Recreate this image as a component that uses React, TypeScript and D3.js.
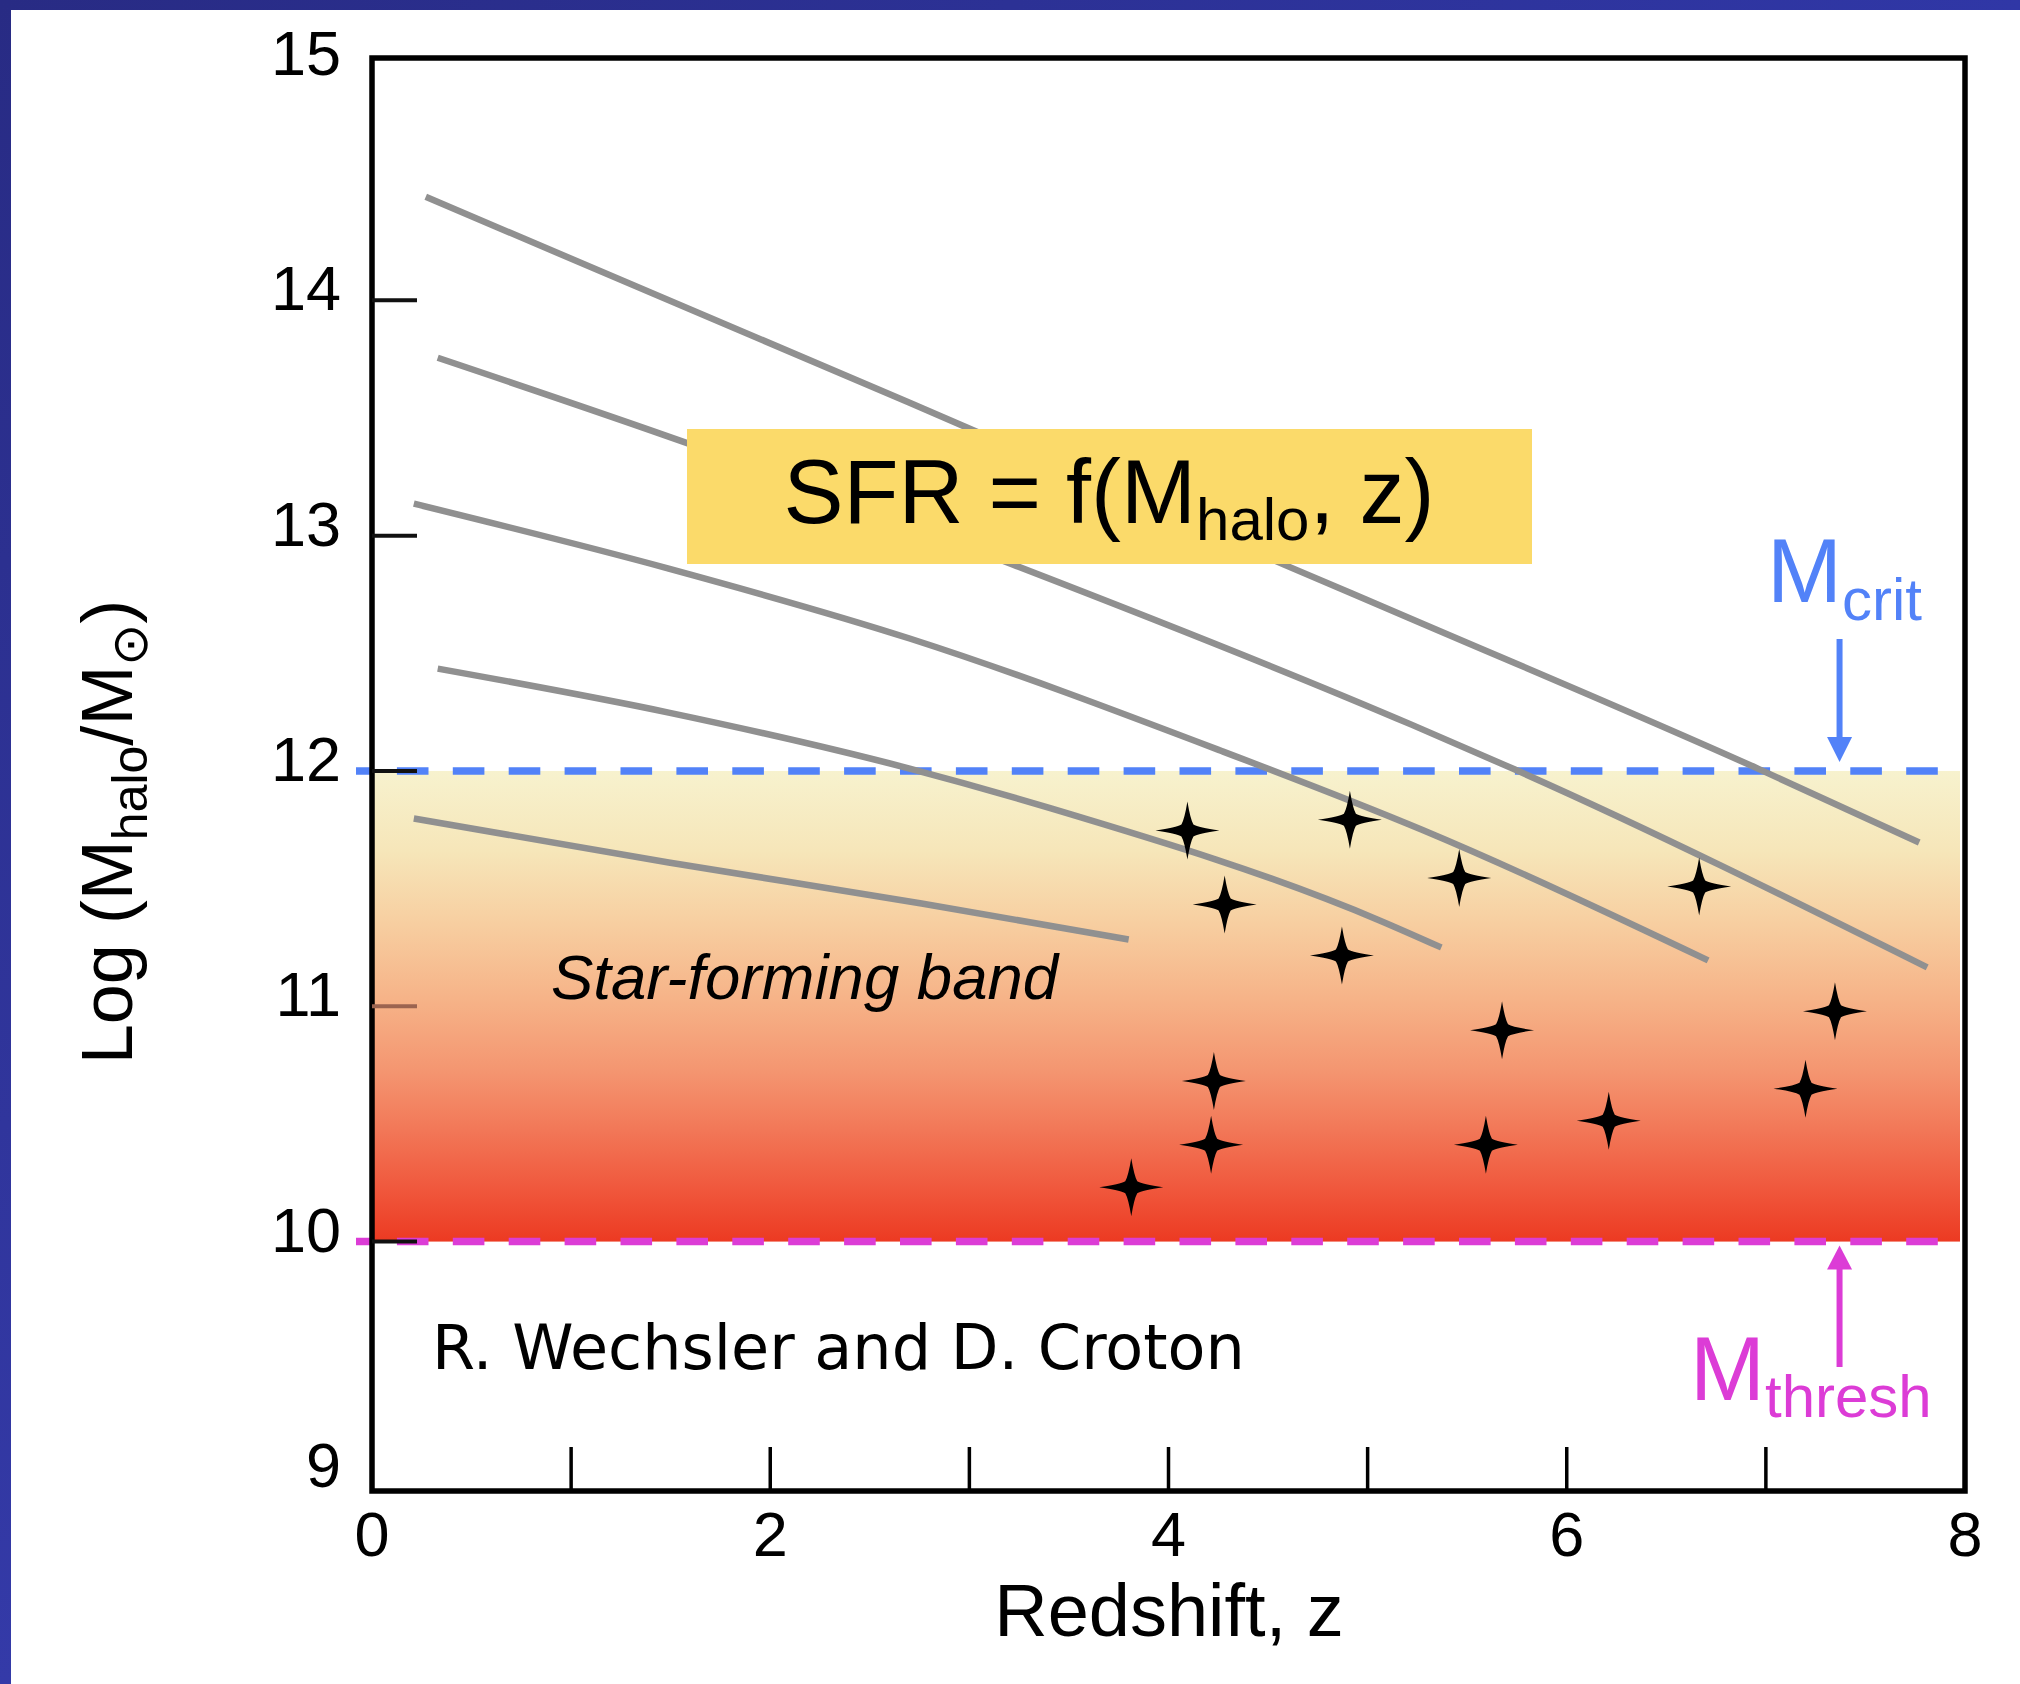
import React from 'react';
import * as d3 from 'd3';

const W = 2020;
const H = 1684;

// axes
const xDomain = [0, 8];
const yDomain = [8.94, 15.03];
const xMinorTicks = [1, 2, 3, 4, 5, 6, 7];
const xTickLabels = [0, 2, 4, 6, 8];
const yTickMarks = [14, 13, 12, 11, 10];
const yTickLabels = [15, 14, 13, 12, 11, 10, 9];

// thresholds
const mCrit = 12;
const mThresh = 10;

// halo growth tracks: [redshift, log Mhalo]
const track1 = [[0.27, 14.44], [2.7, 13.565], [4.58, 12.877], [5.27, 12.628], [6.96, 12.01], [7.77, 11.696]];
const track2 = [[0.33, 13.756], [1.59, 13.391], [3.22, 12.877], [5.22, 12.197], [5.74, 12.006], [7.81, 11.165]];
const track3 = [[0.21, 13.136], [1.49, 12.86], [2.7, 12.563], [4.26, 12.087], [5.27, 11.751], [6.71, 11.195]];
const track4 = [[0.33, 12.435], [1.49, 12.248], [2.7, 12.01], [3.41, 11.841], [5.06, 11.365], [5.37, 11.25]];
const track5 = [[0.21, 11.798], [1.49, 11.611], [2.76, 11.437], [3.8, 11.284]];
const tracks = [track1, track2, track3, track4, track5];

// star-forming galaxies
const starZ = [4.095, 4.911, 4.282, 5.46, 4.871, 6.665, 5.675, 7.347, 4.228, 4.214, 3.813, 5.594, 6.211, 7.199];
const starLogM = [11.747, 11.793, 11.432, 11.545, 11.216, 11.509, 10.898, 10.979, 10.682, 10.412, 10.231, 10.412, 10.514, 10.65];

const SANS = 'Liberation Sans, Arial, Helvetica, sans-serif';

function starPath(rx: number, ry: number): string {
  const c = 6;
  return [
    `M0,${-ry}`,
    `Q3,-11 ${c},${-c}`,
    `Q11,-3 ${rx},0`,
    `Q11,3 ${c},${c}`,
    `Q3,11 0,${ry}`,
    `Q-3,11 ${-c},${c}`,
    `Q-11,3 ${-rx},0`,
    `Q-11,-3 ${-c},${-c}`,
    `Q-3,-11 0,${-ry}Z`,
  ].join(' ');
}

export default function App() {
  const x = d3.scaleLinear().domain(xDomain).range([372, 1965]);
  const y = d3.scaleLinear().domain(yDomain).range([1491, 58]);
  const line = d3
    .line<number[]>()
    .x((d) => x(d[0]))
    .y((d) => y(d[1]))
    .curve(d3.curveMonotoneX);

  const bandX0 = x(0);
  const bandX1 = x(8) - 5;
  const dashX0 = x(0) - 16;
  const arrowX = x(7.37);
  const star = starPath(32, 29);

  return (
    <svg
      width={W}
      height={H}
      style={{ position: 'absolute', left: 0, top: 0, background: '#ffffff' }}
      fontFamily={SANS}
    >
      <defs>
        <linearGradient id="band" x1="0" y1="0" x2="0" y2="1">
          <stop offset="0" stopColor="#f7f2ce" />
          <stop offset="0.17" stopColor="#f6e6b9" />
          <stop offset="0.32" stopColor="#f7cfa1" />
          <stop offset="0.49" stopColor="#f6b287" />
          <stop offset="0.64" stopColor="#f49570" />
          <stop offset="0.76" stopColor="#f27858" />
          <stop offset="0.89" stopColor="#f0573c" />
          <stop offset="1" stopColor="#ec3a22" />
        </linearGradient>
        <linearGradient id="topBar" x1="0" y1="0" x2="1" y2="0">
          <stop offset="0" stopColor="#282b84" />
          <stop offset="1" stopColor="#3037a6" />
        </linearGradient>
        <linearGradient id="leftBar" x1="0" y1="0" x2="0" y2="1">
          <stop offset="0" stopColor="#282b84" />
          <stop offset="1" stopColor="#343aa8" />
        </linearGradient>
      </defs>

      <rect x={0} y={0} width={W} height={H} fill="#ffffff" />
      <rect x={0} y={0} width={W} height={10} fill="url(#topBar)" />
      <rect x={0} y={0} width={11} height={H} fill="url(#leftBar)" />

      {/* star-forming band */}
      <rect
        x={bandX0}
        y={y(mCrit)}
        width={bandX1 - bandX0}
        height={y(mThresh) - y(mCrit)}
        fill="url(#band)"
      />

      {/* threshold lines */}
      <line
        x1={dashX0}
        x2={bandX1}
        y1={y(mCrit)}
        y2={y(mCrit)}
        stroke="#5282f8"
        strokeWidth={7.5}
        strokeDasharray="31.6 24.3"
        strokeDashoffset={15}
      />
      <line
        x1={dashX0}
        x2={bandX1}
        y1={y(mThresh)}
        y2={y(mThresh)}
        stroke="#dc3cd6"
        strokeWidth={7.5}
        strokeDasharray="31.6 24.3"
        strokeDashoffset={15}
      />

      {/* tracks */}
      {tracks.map((t, i) => (
        <path key={i} d={line(t) || ''} fill="none" stroke="#909090" strokeWidth={6.5} />
      ))}

      {/* SFR box */}
      <rect x={687} y={429} width={845} height={135} fill="#fbda6a" />
      <text x={1109} y={523} textAnchor="middle" fontSize={90} fill="#000">
        SFR = f(M
        <tspan fontSize={60} dy={17}>
          halo
        </tspan>
        <tspan dy={-17}>, z)</tspan>
      </text>

      {/* stars */}
      {starZ.map((z, i) => (
        <path key={i} d={star} transform={`translate(${x(z)},${y(starLogM[i])})`} fill="#000" />
      ))}

      {/* frame */}
      <rect x={372} y={58} width={1593} height={1433} fill="none" stroke="#000" strokeWidth={5.5} />

      {/* y ticks */}
      {yTickMarks.map((v) => (
        <line
          key={v}
          x1={x(0)}
          x2={x(0) + 45}
          y1={y(v)}
          y2={y(v)}
          stroke={v > mThresh && v < mCrit ? '#9b6450' : '#111'}
          strokeWidth={4}
        />
      ))}
      {yTickLabels.map((v) => (
        <text
          key={v}
          x={341}
          y={y(v) - 12}
          textAnchor="end"
          dominantBaseline="central"
          fontSize={63}
          fill="#000"
        >
          {v}
        </text>
      ))}

      {/* x ticks */}
      {xMinorTicks.map((v) => (
        <line key={v} x1={x(v)} x2={x(v)} y1={y(yDomain[0])} y2={y(yDomain[0]) - 44} stroke="#000" strokeWidth={3.5} />
      ))}
      {xTickLabels.map((v) => (
        <text key={v} x={x(v)} y={1556} textAnchor="middle" fontSize={63} fill="#000">
          {v}
        </text>
      ))}

      {/* axis titles */}
      <text x={1169} y={1636} textAnchor="middle" fontSize={74} fill="#000">
        Redshift, z
      </text>
      <text transform="translate(132,832) rotate(-90)" textAnchor="middle" fontSize={72} fill="#000">
        Log (M
        <tspan fontSize={50} dy={15}>
          halo
        </tspan>
        <tspan dy={-15}>/M</tspan>
        <tspan fontSize={50} dy={15} fontFamily="DejaVu Sans">
          ⊙
        </tspan>
        <tspan dy={-15}>)</tspan>
      </text>

      {/* annotations */}
      <text x={551} y={999} fontSize={63.5} fontStyle="italic" fill="#000">
        Star-forming band
      </text>
      <text x={432} y={1369} fontSize={62} fontFamily="DejaVu Sans" fill="#000">
        R. Wechsler and D. Croton
      </text>

      <text x={1767} y={602} fontSize={90} fill="#5282f8">
        M
        <tspan fontSize={60} dy={18}>
          crit
        </tspan>
      </text>
      <line x1={arrowX} x2={arrowX} y1={639} y2={y(mCrit) - 25} stroke="#5282f8" strokeWidth={6} />
      <path
        d={`M${arrowX - 12.5},${y(mCrit) - 34} L${arrowX + 12.5},${y(mCrit) - 34} L${arrowX},${y(mCrit) - 9} Z`}
        fill="#5282f8"
      />

      <line x1={arrowX} x2={arrowX} y1={1367} y2={y(mThresh) + 20} stroke="#dc3cd6" strokeWidth={6} />
      <path
        d={`M${arrowX - 12.5},${y(mThresh) + 28} L${arrowX + 12.5},${y(mThresh) + 28} L${arrowX},${y(mThresh) + 4} Z`}
        fill="#dc3cd6"
      />
      <text x={1690} y={1400} fontSize={90} fill="#dc3cd6">
        M
        <tspan fontSize={60} dy={17}>
          thresh
        </tspan>
      </text>
    </svg>
  );
}
